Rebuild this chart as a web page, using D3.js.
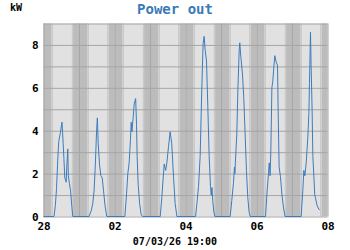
<!DOCTYPE html>
<html>
<head>
<meta charset="utf-8">
<script src="https://cdn.jsdelivr.net/npm/d3@7"></script>
<style>
  body { margin: 0; background: #fff; }
  text { font-family: "DejaVu Sans Mono", monospace; font-weight: bold; }
</style>
</head>
<body>
<div id="chart"></div>
<script>
// readings per day: [hour of day, kW]
const feb28 = [[0, 0], [7.1, 0], [8.0, 0.5], [8.8, 1.3], [9.6, 2.6], [10.3, 3.5], [11.4, 3.9], [12.5, 4.4], [13.3, 3.4], [13.8, 2.7], [14.4, 1.8], [15.0, 1.7], [15.3, 1.6], [15.8, 2.4], [16.4, 3.15], [16.8, 1.9], [17.5, 1.55], [18.3, 1.2], [19.1, 0.5], [19.8, 0]];
const mar01 = [[6.8, 0], [8.4, 0.3], [9.3, 0.6], [10.2, 1.2], [11.1, 2.5], [11.8, 3.85], [12.4, 4.6], [13.0, 3.4], [13.9, 2.4], [14.8, 1.9], [15.7, 1.8], [16.6, 1.2], [17.6, 0.5], [18.8, 0]];
const mar02 = [[7.0, 0], [8.1, 1.0], [9.0, 2.0], [9.9, 2.5], [10.8, 3.6], [11.3, 4.4], [11.8, 3.95], [12.6, 4.6], [13.3, 5.25], [14.3, 5.5], [14.9, 4.3], [15.3, 2.8], [16.0, 1.5], [17.0, 0.6], [18.0, 0.1], [19.0, 0]];
const mar03 = [[6.9, 0], [8.0, 0.9], [8.8, 1.7], [9.6, 2.45], [10.6, 2.15], [11.4, 2.5], [12.5, 3.25], [13.6, 3.95], [14.7, 3.4], [15.9, 1.85], [17.0, 0.6], [18.2, 0]];
const mar04 = [[6.8, 0], [7.7, 0.6], [8.8, 1.4], [9.9, 2.8], [11.0, 5.9], [11.9, 8.05], [12.6, 8.4], [13.3, 7.75], [14.2, 7.25], [15.1, 5.1], [16.0, 2.8], [16.9, 1.4], [17.4, 1.0], [17.9, 1.35], [18.4, 0.75], [19.1, 0.25], [19.9, 0]];
const mar05 = [[6.2, 0], [7.3, 0.75], [8.4, 1.55], [9.1, 2.3], [9.4, 2.0], [9.7, 2.5], [10.7, 3.85], [11.4, 5.9], [12.3, 7.75], [12.7, 8.1], [13.4, 7.45], [14.5, 6.65], [15.4, 5.55], [16.3, 3.85], [17.2, 2.15], [18.1, 0.9], [19.0, 0.2], [19.8, 0]];
const mar06 = [[6.1, 0], [7.2, 1.2], [8.1, 2.0], [8.6, 2.5], [9.2, 1.9], [9.7, 3.1], [10.4, 6.0], [11.0, 6.3], [11.7, 6.95], [12.4, 7.5], [13.3, 7.2], [14.2, 7.05], [14.6, 5.1], [15.3, 2.3], [16.2, 1.85], [17.3, 0.95], [18.3, 0.4], [19.3, 0]];
const mar07 = [[6.2, 0], [7.3, 1.2], [8.0, 2.15], [8.7, 1.9], [9.6, 2.5], [10.7, 3.7], [11.4, 4.8], [11.8, 6.2], [12.5, 8.6], [12.9, 7.1], [13.6, 4.95], [14.1, 2.8], [14.8, 1.85], [15.4, 1.0], [15.8, 0.9], [16.8, 0.55], [17.7, 0.4], [18.6, 0.3]];

const dayStarts = ['2026-02-28', '2026-03-01', '2026-03-02', '2026-03-03', '2026-03-04', '2026-03-05', '2026-03-06', '2026-03-07'];
const dayReadings = [feb28, mar01, mar02, mar03, mar04, mar05, mar06, mar07];

// daylight bands, hour of day
const dawn = 5.5, sunrise = 6.8, sunset = 18.9, dusk = 20.0;

const xTickDays = ['2026-02-28', '2026-03-02', '2026-03-04', '2026-03-06', '2026-03-08'];
const yTicks = [0, 2, 4, 6, 8];
const title = 'Power out';
const unit = 'kW';
const stamp = '07/03/26 19:00';

const width = 350, height = 250;
const margin = { top: 23.5, right: 22.5, bottom: 33.5, left: 43.5 };
const w = width - margin.left - margin.right;
const h = height - margin.top - margin.bottom;

const parse = d3.utcParse('%Y-%m-%d');
const hourOf = (day, hr) => new Date(parse(day).getTime() + hr * 3600e3);

const series = [];
dayReadings.forEach((rows, i) => rows.forEach(([hr, v]) => series.push({ t: hourOf(dayStarts[i], hr), v })));

const x = d3.scaleUtc()
  .domain([parse('2026-02-28'), parse('2026-03-08')])
  .range([0, w]);
const y = d3.scaleLinear()
  .domain([0, 9])
  .range([h, 0]);

const svg = d3.select('#chart')
  .append('svg')
  .attr('width', width)
  .attr('height', height);

const chart = svg.append('g')
  .attr('transform', `translate(${margin.left},${margin.top})`);

// day / night shading
const bands = [];
dayStarts.forEach(d => {
  bands.push({ a: 0, b: dawn, fill: '#bcbcbc', d });
  bands.push({ a: dawn, b: sunrise, fill: '#cacaca', d });
  bands.push({ a: sunrise, b: sunset, fill: '#e1e1e1', d });
  bands.push({ a: sunset, b: dusk, fill: '#cacaca', d });
  bands.push({ a: dusk, b: 24, fill: '#bcbcbc', d });
});
chart.selectAll('.band')
  .data(bands)
  .enter()
  .append('rect')
  .classed('band', true)
  .attr('x', b => x(hourOf(b.d, b.a)))
  .attr('width', b => x(hourOf(b.d, b.b)) - x(hourOf(b.d, b.a)))
  .attr('y', 0)
  .attr('height', h)
  .attr('fill', b => b.fill);

// grid
chart.append('g')
  .attr('class', 'grid')
  .call(d3.axisLeft(y).ticks(9).tickSize(-w).tickFormat(''))
  .call(g => g.select('.domain').remove());
chart.append('g')
  .attr('class', 'grid')
  .attr('transform', `translate(0,${h})`)
  .call(d3.axisBottom(x).ticks(d3.utcDay.every(1)).tickSize(h).tickSizeInner(-h).tickFormat(''))
  .call(g => g.select('.domain').remove());
chart.selectAll('.grid line')
  .attr('stroke', '#a6a6a6')
  .attr('stroke-width', 1);

// line
const line = d3.line()
  .x(d => x(d.t))
  .y(d => y(d.v));
chart.append('path')
  .datum(series)
  .attr('fill', 'none')
  .attr('stroke', '#3b7dbd')
  .attr('stroke-width', 1)
  .attr('stroke-linejoin', 'round')
  .attr('d', line);

// axes labels
const yAxis = chart.append('g')
  .call(d3.axisLeft(y).tickValues(yTicks).tickSize(0).tickPadding(5).tickFormat(d3.format('d')));
yAxis.select('.domain').remove();
yAxis.selectAll('text')
  .attr('font-size', 11)
  .attr('fill', '#000')
  .attr('font-family', '"DejaVu Sans Mono", monospace');

const xAxis = chart.append('g')
  .attr('transform', `translate(0,${h})`)
  .call(d3.axisBottom(x).tickValues(xTickDays.map(parse)).tickSize(0).tickPadding(6).tickFormat(d3.utcFormat('%d')));
xAxis.select('.domain').remove();
xAxis.selectAll('text')
  .attr('font-size', 11)
  .attr('fill', '#000')
  .attr('font-family', '"DejaVu Sans Mono", monospace');

svg.append('text')
  .attr('x', width / 2)
  .attr('y', 14)
  .attr('text-anchor', 'middle')
  .attr('font-size', 14)
  .attr('fill', '#3a7ab6')
  .text(title);

svg.append('text')
  .attr('x', 10)
  .attr('y', 11)
  .attr('font-size', 10)
  .attr('fill', '#000')
  .text(unit);

svg.append('text')
  .attr('x', width / 2)
  .attr('y', 245)
  .attr('text-anchor', 'middle')
  .attr('font-size', 10)
  .attr('fill', '#000')
  .text(stamp);
</script>
</body>
</html>
